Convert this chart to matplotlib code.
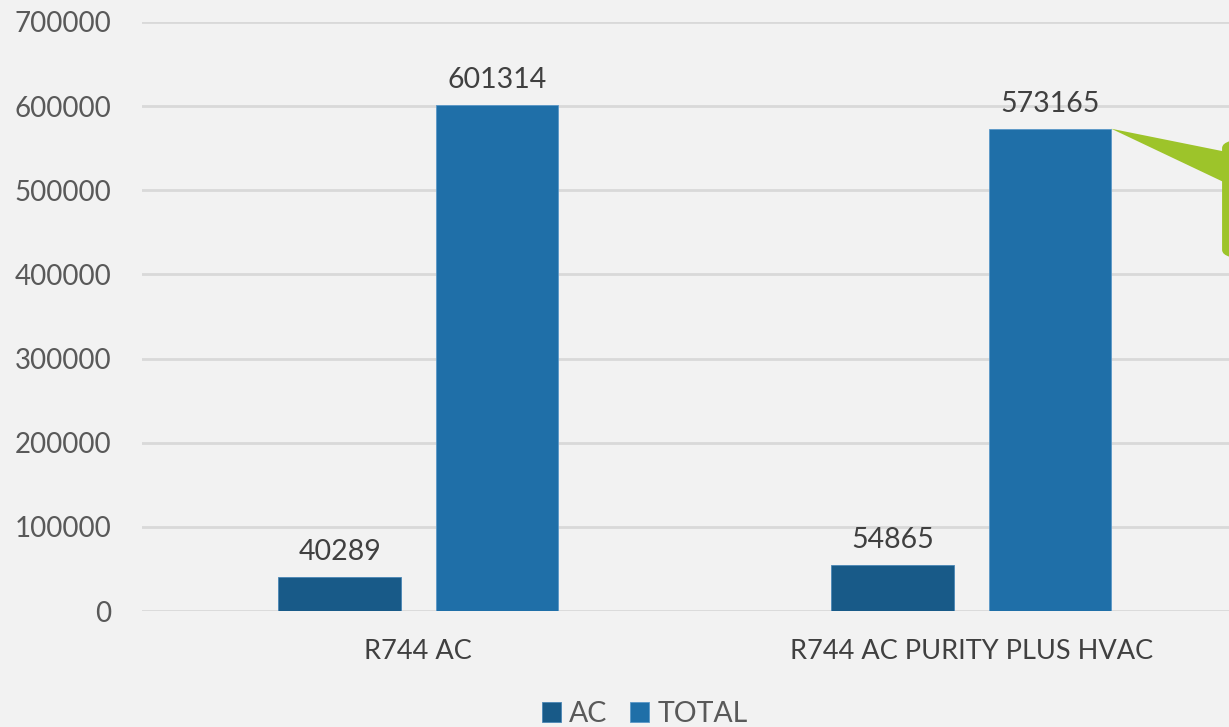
import matplotlib
matplotlib.use("Agg")
import matplotlib.pyplot as plt
from matplotlib.patches import FancyBboxPatch, Polygon
import numpy as np

categories = ["R744 AC", "R744 AC PURITY PLUS HVAC"]
ac_values = [40289, 54865]
total_values = [601314, 573165]
series_names = ["AC", "TOTAL"]
yticks = [0, 100000, 200000, 300000, 400000, 500000, 600000, 700000]

BG = "#f2f2f2"
C_AC = "#185a88"
C_TOTAL = "#1f6fa8"
GREEN = "#9dc42a"
TXT = "#404040"
TICK = "#595959"
FS = 20.5

plt.rcParams['font.family'] = ['Lato', 'DejaVu Sans']

fig = plt.figure(figsize=(12.29, 7.27), dpi=100, facecolor=BG)
ax = fig.add_axes([142/1229, 116/727, 1105.5/1229, 589/727])
ax.set_facecolor(BG)

x = np.arange(len(categories))
w = 0.222
off = 0.1425
b1 = ax.bar(x - off, ac_values, w, color=C_AC, label=series_names[0], zorder=3,
            edgecolor="#4a86b5", linewidth=0.6)
b2 = ax.bar(x + off, total_values, w, color=C_TOTAL, label=series_names[1], zorder=3,
            edgecolor="#5a98c8", linewidth=0.6)

for bars, vals in ((b1, ac_values), (b2, total_values)):
    for r, v in zip(bars, vals):
        ax.text(r.get_x() + r.get_width()/2, v + 14000, f"{v}", ha="center", va="bottom",
                fontsize=FS, color=TXT)

ax.set_xlim(-0.5, 1.5)
ax.set_ylim(0, 700000)
ax.set_yticks(yticks)
ax.set_yticklabels([str(t) for t in yticks], fontsize=20, color=TICK)
ax.set_xticks(x)
ax.set_xticklabels(categories, fontsize=19.5, color=TXT)
ax.tick_params(axis='both', length=0)
ax.tick_params(axis='y', pad=22)
ax.tick_params(axis='x', pad=20)
for s in ax.spines.values():
    s.set_visible(False)
ax.yaxis.grid(True, color="#d9d9d9", linewidth=2, zorder=0)
ax.set_axisbelow(True)

# callout bubble pointing to the top of the second TOTAL bar
r = b2[1]
tip = ax.transAxes.inverted().transform(ax.transData.transform((r.get_x() + r.get_width(), total_values[1])))
bubble = FancyBboxPatch((0.977, 0.597), 0.2, 0.205, boxstyle="round,pad=0,rounding_size=0.03",
                        transform=ax.transAxes, facecolor=GREEN, edgecolor="none",
                        clip_on=False, zorder=4, mutation_aspect=589/1105.5)
ax.add_patch(bubble)
tri = Polygon([tip, (0.99, 0.776), (0.99, 0.718)], closed=True, transform=ax.transAxes,
              facecolor=GREEN, edgecolor="none", clip_on=False, zorder=4)
ax.add_patch(tri)

leg = fig.legend(handles=[b1, b2], labels=series_names, loc="center", bbox_to_anchor=(645/1229, 13/727),
                 ncol=2, frameon=False, fontsize=FS, handlelength=0.65, handleheight=0.65,
                 handletextpad=0.3, columnspacing=0.8, borderaxespad=0)
for t in leg.get_texts():
    t.set_color(TICK)

fig.savefig("out.png", dpi=100, facecolor=BG)
